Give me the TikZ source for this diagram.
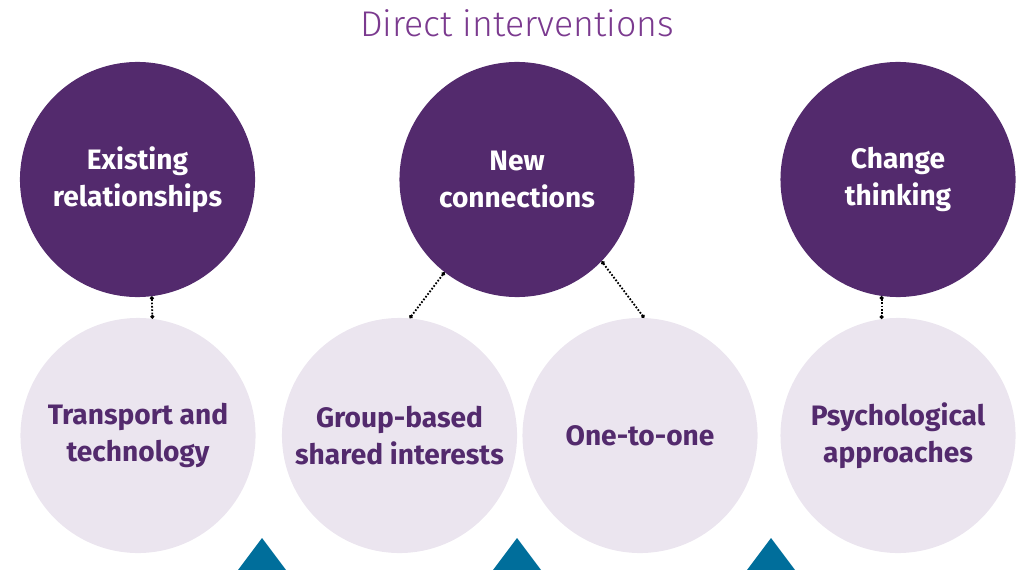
\documentclass[tikz,border=0pt]{standalone}
\usepackage{fontspec}
\setmainfont{Fira Sans}
\newfontfamily\lightfont{Fira Sans Light}
\usetikzlibrary{arrows.meta}
\definecolor{darkplum}{HTML}{532A6D}
\definecolor{palelilac}{HTML}{EBE5EF}
\definecolor{titleplum}{HTML}{7B3A8F}
\definecolor{tealblue}{HTML}{006E9B}

\begin{document}
\begin{tikzpicture}[x=0.025cm,y=-0.025cm,
  bigdot/.style={circle,minimum size=5.875cm,inner sep=0pt,align=center,font=\bfseries\fontsize{20}{26.3}\selectfont},
  darkdot/.style={bigdot,fill=darkplum,text=white},
  palecirc/.style={bigdot,fill=palelilac,text=darkplum},
  dotline/.style={line width=1.3pt,dash pattern=on 1.2pt off 1.2pt,{Circle[length=2.6pt]}-{Circle[length=2.6pt]}}]
\useasboundingbox (0,0) rectangle (1016,570);
\clip (0,0) rectangle (1016,570);
\node[anchor=base,text=titleplum,font=\lightfont\fontsize{25.4}{30}\selectfont] (title) at (517,37) {Direct interventions};
% top row
\node[darkdot] (existing) at (137.5,179.5) {Existing\\relationships};
\node[darkdot] (newconn) at (517,179.5) {New\\connections};
\node[darkdot] (change) at (898,179.5) {Change\\thinking};
% bottom row
\node[palecirc] (transport) at (138,435.5) {Transport and\\technology};
\node[palecirc] (group) at (399.5,435.5) {Group-based\\shared interests};
\node[palecirc] (onetoone) at (640,435.5) {One-to-one};
\node[palecirc] (psych) at (898,435.5) {Psychological\\approaches};
\draw[dotline] (existing.277) -- (transport.83);
\draw[dotline] (newconn.232) -- (group.85);
\draw[dotline] (newconn.316) -- (onetoone.88);
\draw[dotline] (change.262) -- (psych.98);
\foreach \x in {262,517,771}
\fill[tealblue] (\x,538) -- ++(24,32) -- ++(-48,0) -- cycle;
\end{tikzpicture}
\end{document}
